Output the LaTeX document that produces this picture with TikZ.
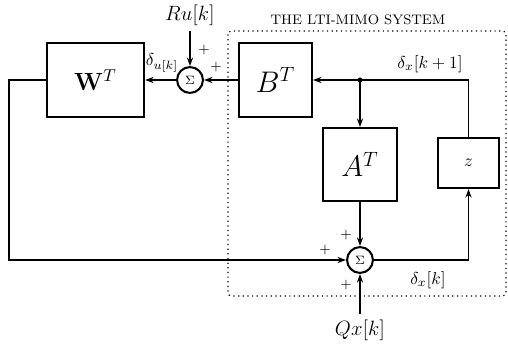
\documentclass[tikz,border=0pt]{standalone}
\usepackage{amsmath,amssymb}
\usepackage{tikz}
\usetikzlibrary{arrows.meta,calc}

\begin{document}
\begin{tikzpicture}[x=0.58pt, y=-0.58pt,
      block/.style={rectangle, draw, line width=1.2pt, inner sep=2pt},
      sumnode/.style={circle, draw, line width=1.2pt, minimum size=15pt,
                      inner sep=0pt, font=\scriptsize},
      arr/.style={->, >={Stealth[length=5pt, width=3.6pt]}, line width=0.75pt},
      sgn/.style={font=\footnotesize, inner sep=0pt},
      lbl/.style={inner sep=1pt},
    ]
    \useasboundingbox (0,0) rectangle (508,345);

    % System frame
    \draw[dotted, line width=0.7pt, rounded corners=2pt] (228,31) rectangle (506,296);
    \node[font=\footnotesize] (sys) at (358,20) {THE LTI-MIMO SYSTEM};

    % Row 1: weight, first sum, B block
    \node[block, minimum width=56.3pt, minimum height=42.9pt, font=\Large] (wt) at (95.5,80) {$\mathbf{W}^T$};
    \node[sumnode] (sumu) at (190,80) {$\Sigma$};
    \node[block, minimum width=42.3pt, minimum height=42.9pt, font=\LARGE] (bt) at (275.5,80) {$B^T$};
    \coordinate (jn) at (360,80);
    \node[font=\large] (ru) at (190,15) {$Ru[k]$};

    % Row 2: A block and delay
    \node[block, minimum width=42.9pt, minimum height=42.3pt, font=\LARGE] (at) at (360,164.5) {$A^T$};
    \node[block, minimum width=35.4pt, minimum height=29pt] (zb) at (468.5,163) {$z$};

    % Row 3: second sum and input
    \node[sumnode] (sumx) at (360,260) {$\Sigma$};
    \node[font=\large] (qx) at (360,330) {$Qx[k]$};

    % Signal labels
    \node[lbl] (du) at (162,63) {$\delta_{u[k]}$};
    \node[lbl] (dx1) at (430,64) {$\delta_x[k+1]$};
    \node[lbl] (dx) at (428,280) {$\delta_x[k]$};

    % Signs
    \node[sgn] (p1) at (204,50) {$+$};
    \node[sgn] (p2) at (216,67) {$+$};
    \node[sgn] (p3) at (346,235) {$+$};
    \node[sgn] (p4) at (325,250) {$+$};
    \node[sgn] (p5) at (346,285) {$+$};

    % Arrows: top loop
    \draw[arr] (ru) -- (sumu);
    \draw[arr] (bt) -- (sumu);
    \draw[arr] (sumu) -- (wt);
    \draw[arr] (zb.north) |- (bt.east);
    \draw[arr] (jn) -- (at);
    \fill (jn) circle (2.5);

    % Arrows: into the second sum
    \draw[arr] (at) -- (sumx);
    \draw[arr] (qx) -- (sumx);
    \draw[arr] (wt.west) -- ++(-37,0) |- (sumx.west);
    \draw[arr] (sumx.east) -| (zb.south);

\end{tikzpicture}
\end{document}
